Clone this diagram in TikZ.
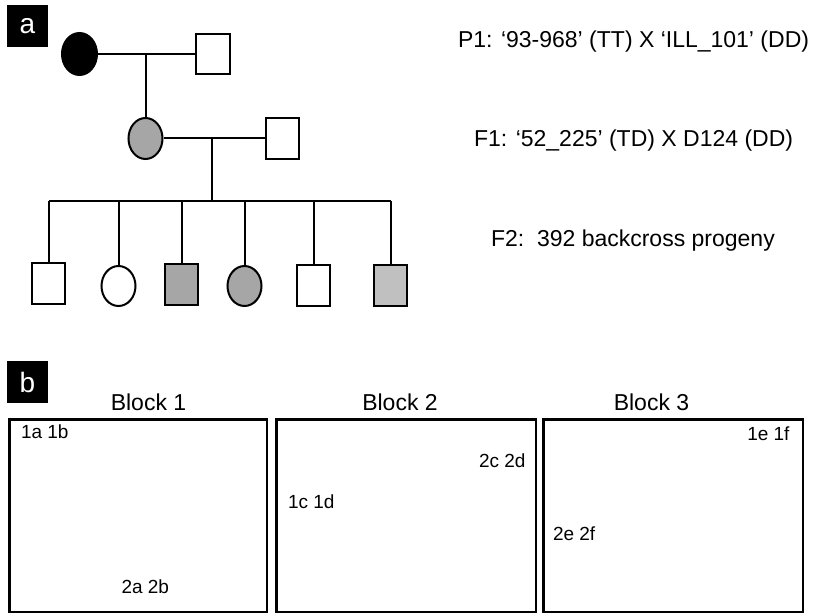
\documentclass[tikz,border=0pt]{standalone}
\usepackage{fontspec}
\setmainfont{Liberation Sans}
\usepackage{tikz}
\usetikzlibrary{shapes.geometric}
\definecolor{shade}{RGB}{166,166,166}
\definecolor{paleshade}{RGB}{192,192,192}
\newcommand{\bigtxt}{\fontsize{11.5}{13.8}\selectfont}
\newcommand{\smalltxt}{\fontsize{9.5}{11.4}\selectfont}

\begin{document}
\begin{tikzpicture}[x=0.5pt, y=-0.5pt, line width=1pt,
  female/.style={ellipse, draw, line width=1pt, inner sep=0pt, minimum width=17pt, minimum height=20.5pt},
  male/.style={rectangle, draw, line width=1pt, inner sep=0pt, minimum width=16.5pt, minimum height=20.5pt},
  tag/.style={fill=black, text=white, inner sep=0pt, minimum width=20.5pt, minimum height=21pt, font=\fontsize{14}{16}\selectfont},
  blockbox/.style={draw, line width=1.25pt, inner sep=0pt, minimum height=96.25pt},
  cross/.style={anchor=base west, inner sep=0pt, font=\bigtxt},
  pair/.style={inner sep=0pt, font=\smalltxt}]
  \useasboundingbox (0,0) rectangle (814,614);
  % Panel tags
  \node[tag] (taga) at (27.5,26) {a};
  \node[tag] (tagb) at (27.5,382.5) {b};
  % P1 parents
  \node[female, fill=black, minimum width=17.5pt, minimum height=21pt] (p1f) at (79.5,54) {};
  \node[male, minimum width=17pt, minimum height=20pt] (p1m) at (213,54) {};
  \draw (p1f.east) -- (p1m.west);
  \coordinate (m1) at (145.5,54);
  % F1 parents
  \node[female, fill=shade] (f1f) at (145.5,138.5) {};
  \node[male] (f1m) at (282.5,138.5) {};
  \draw (m1) -- (f1f.north);
  \draw (f1f.east) -- (f1m.west);
  \coordinate (m2) at (212,138.5);
  \coordinate (sib) at (212,201);
  \draw (m2) -- (sib);
  % F2 progeny
  \node[male] (c1) at (48.5,283.5) {};
  \node[female, minimum height=20pt] (c2) at (118.5,286) {};
  \node[male, fill=shade] (c3) at (181.5,285) {};
  \node[female, fill=shade, minimum height=20pt] (c4) at (244.5,286) {};
  \node[male] (c5) at (313.5,285.5) {};
  \node[male, fill=paleshade] (c6) at (390.5,285.5) {};
  \coordinate (s1) at (48.5,201);
  \coordinate (s2) at (118.5,201);
  \coordinate (s3) at (181.5,201);
  \coordinate (s4) at (244.5,201);
  \coordinate (s5) at (313.5,201);
  \coordinate (s6) at (390.5,201);
  \draw (s1) -- (s6);
  \foreach \i in {1,...,6}
    \draw (s\i) -- (c\i.north);
  % Generation labels
  \node[cross] (lp1) at (457,48) {P1: ‘93-968’ (TT) X ‘ILL\_101’ (DD)};
  \node[cross] (lf1) at (473,147) {F1: ‘52\_225’ (TD) X D124 (DD)};
  \node[cross] (lf2) at (490,247) {F2:\ \ 392 backcross progeny};
  % Blocks
  \node[blockbox, minimum width=128.75pt] (blk1) at (138.25,515.75) {};
  \node[blockbox, minimum width=129.75pt] (blk2) at (406,515.75) {};
  \node[blockbox, minimum width=129.75pt] (blk3) at (673,515.75) {};
  \node[anchor=base, inner sep=0pt, font=\bigtxt] (h1) at (148.5,411) {Block 1};
  \node[anchor=base, inner sep=0pt, font=\bigtxt] (h2) at (400,411) {Block 2};
  \node[anchor=base, inner sep=0pt, font=\bigtxt] (h3) at (651.5,411) {Block 3};
  % Marker pairs
  \node[pair, anchor=base west] (q1) at (20,439) {1a 1b};
  \node[pair, anchor=base west] (q2) at (120.5,593) {2a 2b};
  \node[pair, anchor=base east] (q3) at (526.5,467) {2c 2d};
  \node[pair, anchor=base west] (q4) at (287,509) {1c 1d};
  \node[pair, anchor=base east] (q5) at (790.5,441) {1e 1f};
  \node[pair, anchor=base west] (q6) at (552,540) {2e 2f};
\end{tikzpicture}
\end{document}
